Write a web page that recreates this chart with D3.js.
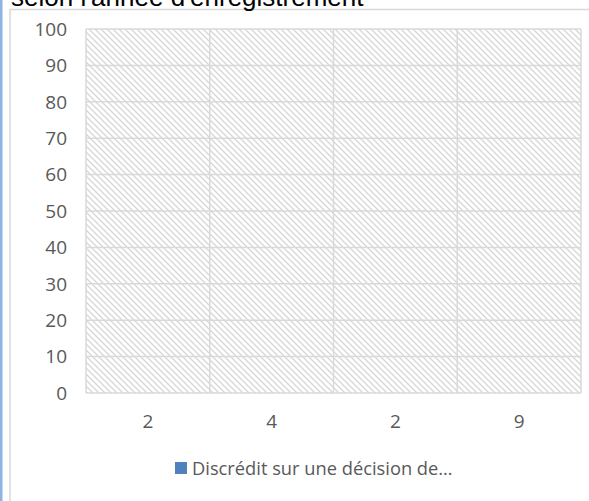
<!DOCTYPE html>
<html><head><meta charset="utf-8">
<script src="https://cdn.jsdelivr.net/npm/d3@7"></script>
<style>html,body{margin:0;padding:0;background:#fff;overflow:hidden}</style>
</head><body>
<svg id="c" width="589" height="501"></svg>
<script>
const title = "selon l'année d'enregistrement";
const categories = ["2", "4", "2", "9"];
const seriesName = "Discrédit sur une décision de…";
const values = [0, 0, 0, 0];
const yTicks = [0, 10, 20, 30, 40, 50, 60, 70, 80, 90, 100];

const svg = d3.select("#c");
const font = "'Open Sans', sans-serif";
const txt = "#595959";
const grid = "#d9d9d9";

// left accent bar and chart frame
svg.append("rect").attr("x", 0).attr("y", 0).attr("width", 2.5).attr("height", 501).attr("fill", "#8eb4e3");
svg.append("path").attr("d", "M10,501V9.5H589").attr("fill", "none").attr("stroke", grid).attr("stroke-width", 1.5);

// title (cut off at top, as in the reference)
svg.append("text").attr("x", 11).attr("y", 6).attr("font-family", "'Liberation Sans', Arial, sans-serif")
  .attr("font-size", 26).attr("fill", "#000").text(title);

const m = {l: 86, r: 581, t: 29, b: 393};
const idx = categories.map((d, i) => i);
const x = d3.scaleBand().domain(idx).range([m.l, m.r]).paddingInner(0).paddingOuter(0);
const y = d3.scaleLinear().domain([0, 100]).range([m.b, m.t]);

// hatch pattern
const defs = svg.append("defs");
const pat = defs.append("pattern").attr("id", "hatch").attr("patternUnits", "userSpaceOnUse")
  .attr("width", 6).attr("height", 6);
pat.append("rect").attr("width", 6).attr("height", 6).attr("fill", "#fff");
pat.append("path").attr("d", "M-1,-1L7,7M-1,5L1,7M5,-1L7,1").attr("stroke", "#d6d6d6").attr("stroke-width", 1.3);

svg.append("rect").attr("x", m.l).attr("y", m.t).attr("width", m.r - m.l).attr("height", m.b - m.t)
  .attr("fill", "url(#hatch)");

// gridlines
svg.append("g").selectAll("line").data(yTicks).join("line")
  .attr("x1", m.l).attr("x2", m.r).attr("y1", d => y(d)).attr("y2", d => y(d))
  .attr("stroke", grid).attr("stroke-width", 1.5);
const vb = idx.map(i => x(i)).concat([m.r]);
svg.append("g").selectAll("line").data(vb).join("line")
  .attr("x1", d => d).attr("x2", d => d).attr("y1", m.t).attr("y2", m.b)
  .attr("stroke", grid).attr("stroke-width", 1.5);

// bars (values)
svg.append("g").selectAll("rect").data(values).join("rect")
  .attr("x", (d, i) => x(i) + x.bandwidth() * 0.2).attr("width", x.bandwidth() * 0.6)
  .attr("y", d => y(d)).attr("height", d => y(0) - y(d)).attr("fill", "#4f81bd");

// y axis
const ya = d3.axisLeft(y).tickValues(yTicks).tickSize(0).tickPadding(0);
const gy = svg.append("g").attr("transform", "translate(67,0)").call(ya);
gy.select(".domain").remove();
gy.selectAll("text").attr("font-family", font).attr("font-size", 19).attr("fill", txt).attr("dy", "0.33em");

// x axis
const xa = d3.axisBottom(x).tickFormat(i => categories[i]).tickSize(0).tickPadding(0);
const gx = svg.append("g").attr("transform", "translate(0,428)").call(xa);
gx.select(".domain").remove();
gx.selectAll("text").attr("font-family", font).attr("font-size", 19).attr("fill", txt).attr("dy", "0").attr("y", 0);

// legend
svg.append("rect").attr("x", 175).attr("y", 462).attr("width", 12).attr("height", 12).attr("fill", "#4f81bd");
svg.append("text").attr("x", 192).attr("y", 475).attr("font-family", font)
  .attr("font-size", 18.3).attr("fill", txt).text(seriesName);
</script>
</body></html>
